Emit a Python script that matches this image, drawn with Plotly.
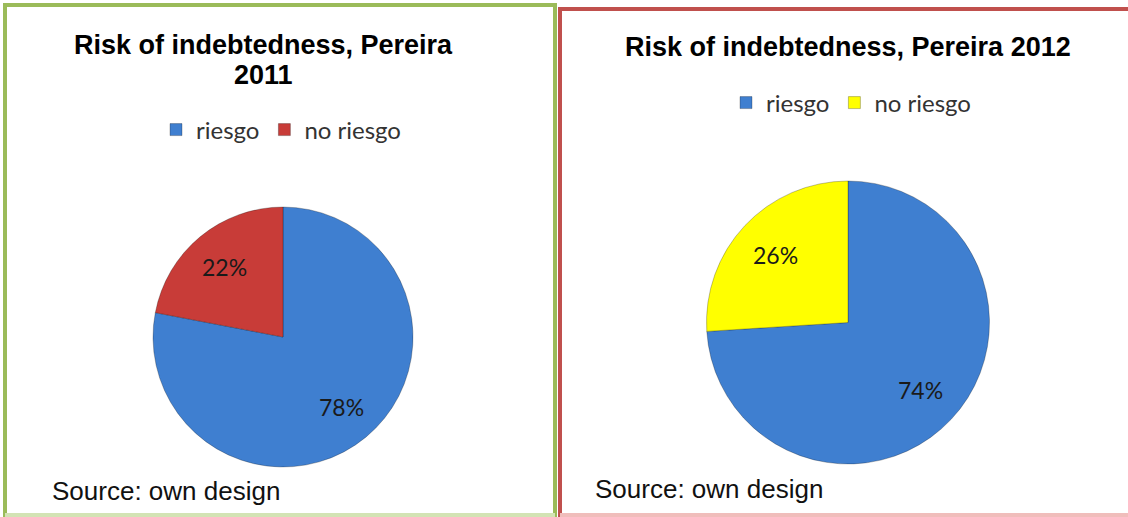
import math
import plotly.graph_objects as go

W, H = 1128, 517

labels = ["riesgo", "no riesgo"]
values_2011 = [78, 22]
values_2012 = [74, 26]
colors_2011 = ["#3F7FD0", "#C83C38"]
colors_2012 = ["#3F7FD0", "#FFFF00"]
title_2011_lines = ["Risk of indebtedness, Pereira", "2011"]
title_2012 = "Risk of indebtedness, Pereira 2012"
source_text = "Source: own design"

# zero-width space keeps the second pie's legend entries separate from the first
labels_2012 = [l + "\u200b" for l in labels]


def px(x):
    return x / W


def py(y):
    return 1 - y / H


TXT = dict(family="Lato, Carlito, sans-serif", size=23, color="#1a1a1a")

# pie geometry (pixels): left, right, top, bottom of each pie's domain
geo_2011 = (153, 413, 207, 467)
geo_2012 = (706, 990, 181, 464)


def pie_label_annotations(values, geo, frac=0.7):
    l, r, t, b = geo
    cx, cy = (l + r) / 2, (t + b) / 2
    R = min(r - l, b - t) / 2
    total = sum(values)
    anns = []
    start = 0.0
    for v in values:
        ang = math.radians(start + v / total * 180.0)
        start += v / total * 360.0
        x = cx + frac * R * math.sin(ang)
        y = cy - frac * R * math.cos(ang)
        anns.append(dict(text=f"{v / total * 100:.0f}%", x=px(x), y=py(y),
                         xref="paper", yref="paper", xanchor="center", yanchor="middle",
                         showarrow=False, font=TXT))
    return anns


fig = go.Figure()

fig.add_trace(go.Pie(
    labels=labels, values=values_2011, sort=False, direction="clockwise", rotation=0,
    marker=dict(colors=colors_2011, line=dict(color="rgba(0,0,0,0.25)", width=1)),
    textinfo="none",
    domain=dict(x=[px(geo_2011[0]), px(geo_2011[1])], y=[py(geo_2011[3]), py(geo_2011[2])]),
    legend="legend", hoverinfo="label+percent",
))
fig.add_trace(go.Pie(
    labels=labels_2012, values=values_2012, sort=False, direction="clockwise", rotation=0,
    marker=dict(colors=colors_2012, line=dict(color="rgba(0,0,0,0.25)", width=1)),
    textinfo="none",
    domain=dict(x=[px(geo_2012[0]), px(geo_2012[1])], y=[py(geo_2012[3]), py(geo_2012[2])]),
    legend="legend2", hoverinfo="label+percent",
))

legend_common = dict(
    orientation="h", xanchor="center", yanchor="middle",
    font=dict(family="Lato, Carlito, sans-serif", size=24, color="#333333"),
    bgcolor="rgba(0,0,0,0)", itemwidth=30, traceorder="normal",
)

title_font = dict(family="Liberation Sans, Arial, sans-serif", size=27, color="#000000")
src_font = dict(family="Liberation Sans, Arial, sans-serif", size=26, color="#111111")

annotations = [
    dict(text="<b>" + title_2011_lines[0] + "</b>",
         x=px(263), y=py(45), xref="paper", yref="paper",
         xanchor="center", yanchor="middle", showarrow=False, font=title_font),
    dict(text="<b>" + title_2011_lines[1] + "</b>",
         x=px(263), y=py(75), xref="paper", yref="paper",
         xanchor="center", yanchor="middle", showarrow=False, font=title_font),
    dict(text="<b>" + title_2012 + "</b>",
         x=px(848), y=py(47), xref="paper", yref="paper",
         xanchor="center", yanchor="middle", showarrow=False, font=title_font),
    dict(text=source_text, x=px(50), y=py(491), xref="paper", yref="paper",
         xanchor="left", yanchor="middle", showarrow=False, font=src_font),
    dict(text=source_text, x=px(593), y=py(489), xref="paper", yref="paper",
         xanchor="left", yanchor="middle", showarrow=False, font=src_font),
]
annotations += pie_label_annotations(values_2011, geo_2011)
annotations += pie_label_annotations(values_2012, geo_2012)

fig.update_layout(
    width=W, height=H,
    margin=dict(l=0, r=0, t=0, b=0),
    paper_bgcolor="white", plot_bgcolor="white",
    legend=dict(x=px(281), y=py(130), **legend_common),
    legend2=dict(x=px(851), y=py(103), **legend_common),
    shapes=[
        dict(type="rect", xref="paper", yref="paper",
             x0=px(5), x1=px(555), y0=py(515), y1=py(5),
             line=dict(color="#9BBB59", width=4)),
        dict(type="line", xref="paper", yref="paper",
             x0=px(5), x1=px(555), y0=py(515), y1=py(515),
             line=dict(color="#D3E3B4", width=4)),
        dict(type="rect", xref="paper", yref="paper",
             x0=px(560), x1=px(1132), y0=py(515), y1=py(9),
             line=dict(color="#C0504D", width=4)),
        dict(type="line", xref="paper", yref="paper",
             x0=px(560), x1=px(1128), y0=py(515), y1=py(515),
             line=dict(color="#F0BDBB", width=4)),
    ],
    annotations=annotations,
)

fig.write_html(
    "out.html",
    config={"displayModeBar": False},
    post_script="document.body.style.margin='0';document.body.style.overflow='hidden';",
)
